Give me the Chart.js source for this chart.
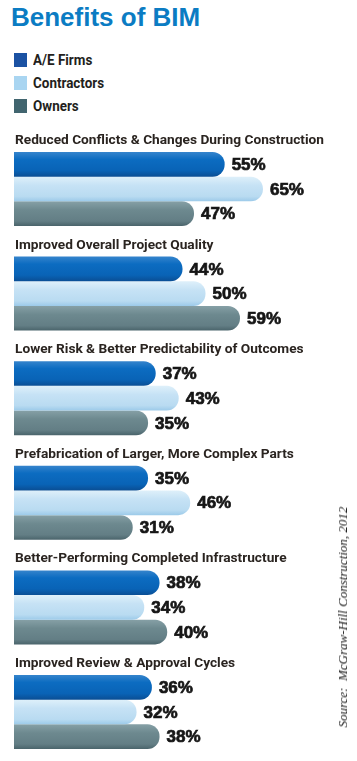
<!DOCTYPE html>
<html>
<head>
<meta charset="utf-8">
<script src="https://cdn.jsdelivr.net/npm/chart.js@4/dist/chart.umd.min.js"></script>
<style>
  html, body { margin: 0; padding: 0; background: #ffffff; width: 357px; height: 761px; overflow: hidden; }
  #wrap { position: relative; width: 357px; height: 761px; overflow: hidden; }
  #title { position: absolute; left: 11px; top: 1px; font: bold 26px "Liberation Sans", Arial, sans-serif; color: #0b7cc3; line-height: 32px; white-space: nowrap; }
  #legend { position: absolute; left: 14px; top: 52px; }
  .item { height: 23px; display: flex; align-items: flex-start; }
  .sw { width: 13px; height: 14px; margin-top: 1px; }
  .lab { margin-left: 6px; font: bold 14px Roboto, "Liberation Sans", sans-serif; color: #231f1c; line-height: 16px; transform: scaleX(0.96); transform-origin: left center; }
  #source { position: absolute; left: 343px; top: 617px; transform: translate(-50%, -50%) rotate(-90deg); font: italic 13px "Liberation Serif", "Times New Roman", serif; color: #222; white-space: pre; }
  canvas { position: absolute; left: 0; top: 0; }
</style>
</head>
<body>
<div id="wrap">
  <div id="title">Benefits of BIM</div>
  <div id="legend"></div>
  <canvas id="c" width="357" height="770"></canvas>
  <div id="source">Source:  McGraw-Hill Construction, 2012</div>
</div>
<script>
// ---- data ----
const categories = [
  "Reduced Conflicts & Changes During Construction",
  "Improved Overall Project Quality",
  "Lower Risk & Better Predictability of Outcomes",
  "Prefabrication of Larger, More Complex Parts",
  "Better-Performing Completed Infrastructure",
  "Improved Review & Approval Cycles"
];
const seriesNames = ["A/E Firms", "Contractors", "Owners"];
const aeFirms     = [55, 44, 37, 35, 38, 36];
const contractors = [65, 50, 43, 46, 34, 32];
const owners      = [47, 59, 35, 31, 40, 38];

// ---- styles ----
const legendColors = ["#1b52a3", "#a9d5f1", "#41656f"];
const gradStops = [
  [["#3584cc", 0], ["#0c6cc1", 0.3], ["#0963b6", 0.75], ["#0a4e94", 1]],
  [["#def0fa", 0], ["#c6e2f5", 0.35], ["#b9dbf1", 0.8], ["#9ccae9", 1]],
  [["#86a0a6", 0], ["#6d898f", 0.35], ["#637e85", 0.8], ["#4a646b", 1]]
];
const CAT_PCT = 0.707;

// legend built from series
const lg = document.getElementById('legend');
seriesNames.forEach((n, i) => {
  const d = document.createElement('div'); d.className = 'item';
  const s = document.createElement('div'); s.className = 'sw'; s.style.background = legendColors[i];
  const t = document.createElement('div'); t.className = 'lab'; t.textContent = n;
  d.appendChild(s); d.appendChild(t); lg.appendChild(d);
});

function barFill(ctx) {
  const chart = ctx.chart;
  const ys = chart.scales && chart.scales.y;
  const di = ctx.datasetIndex;
  if (!ys || ctx.type !== 'data' || !ys.height) return legendColors[di];
  const center = ys.getPixelForValue(ctx.dataIndex);
  const band = ys.height / categories.length;
  const bh = band * CAT_PCT / 3;
  const top = center - 1.5 * bh + di * bh;
  const g = chart.ctx.createLinearGradient(0, top, 0, top + bh);
  gradStops[di].forEach(([c, p]) => g.addColorStop(p, c));
  return g;
}

const labelsPlugin = {
  id: 'groupLabels',
  afterDatasetsDraw(chart) {
    const ctx = chart.ctx;
    ctx.save();
    // value labels
    ctx.font = 'bold 17px "Liberation Sans", Arial, sans-serif';
    ctx.fillStyle = '#161616';
    ctx.strokeStyle = '#161616';
    ctx.lineWidth = 0.7;
    ctx.textBaseline = 'middle';
    ctx.textAlign = 'left';
    chart.data.datasets.forEach((ds, di) => {
      chart.getDatasetMeta(di).data.forEach((el, i) => {
        const t = ds.data[i] + '%';
        ctx.fillText(t, el.x + 7, el.y + 1);
        ctx.strokeText(t, el.x + 7, el.y + 1);
      });
    });
    // group titles
    ctx.font = 'bold 13.7px Roboto, "Liberation Sans", sans-serif';
    ctx.fillStyle = '#2a2420';
    const first = chart.getDatasetMeta(0).data;
    first.forEach((el, i) => {
      const top = el.y - el.height / 2;
      ctx.fillText(categories[i], chart.chartArea.left + 1, top - 11.5);
    });
    ctx.restore();
  }
};

const barStyle = {
  barPercentage: 1,
  categoryPercentage: CAT_PCT,
  borderRadius: 12,
  borderSkipped: 'start',
  borderWidth: 0,
  backgroundColor: barFill
};

new Chart(document.getElementById('c'), {
  type: 'bar',
  data: {
    labels: categories,
    datasets: [
      Object.assign({ label: seriesNames[0], data: aeFirms }, barStyle),
      Object.assign({ label: seriesNames[1], data: contractors }, barStyle),
      Object.assign({ label: seriesNames[2], data: owners }, barStyle)
    ]
  },
  options: {
    indexAxis: 'y',
    responsive: false,
    animation: false,
    events: [],
    layout: { padding: { left: 14, right: 36.6, top: 136.7, bottom: 5.7 } },
    scales: {
      x: { display: false, min: 0, max: 80 },
      y: { display: false }
    },
    plugins: { colors: { enabled: false }, legend: { display: false }, tooltip: { enabled: false }, title: { display: false } }
  },
  plugins: [labelsPlugin]
});
</script>
</body>
</html>
